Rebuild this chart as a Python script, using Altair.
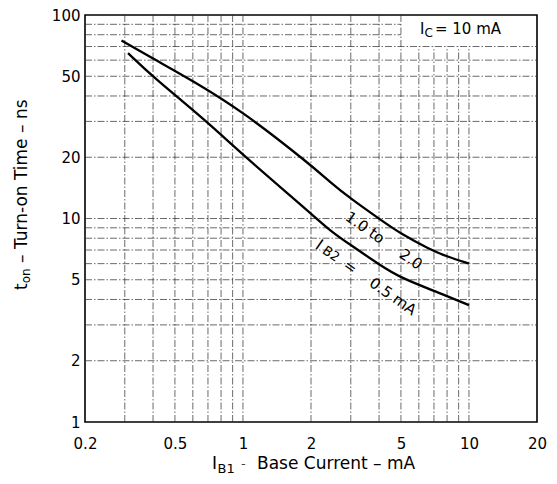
import altair as alt
import pandas as pd

# ---------------- data ----------------
ib1_upper = [0.29, 0.4, 0.6, 1.0, 2.0, 2.43, 3.0, 4.04, 5.0, 6.7, 8.0, 10.0]
ton_upper = [75, 61, 47.5, 33.5, 18.3, 15.1, 12.5, 9.9, 8.4, 7.06, 6.5, 6.0]
ib1_lower = [0.31, 0.4, 0.69, 1.0, 2.0, 2.43, 3.0, 4.04, 5.0, 7.44, 10.0]
ton_lower = [65, 49.6, 30.1, 20.5, 10.6, 8.7, 7.4, 5.9, 5.1, 4.3, 3.75]

x_grid = [0.3, 0.4, 0.5, 0.6, 0.7, 0.8, 0.9, 1, 2, 3, 4, 5, 6, 7, 8, 9, 10]
y_grid = [2, 3, 4, 5, 6, 7, 8, 9, 10, 20, 30, 40, 50, 60, 70, 80, 90]
x_labels = [0.2, 0.5, 1, 2, 5, 10, 20]
y_labels = [1, 2, 5, 10, 20, 50, 100]
x_domain = [0.2, 20]
y_domain = [1, 100]
box_x, box_y = 5, 70  # corner of the legend box (upper right)

# curve annotations (text, x, y)
curve_text = ["1.0 to", "2.0", "0.5 mA", "="]
curve_tx = [3.47, 5.54, 4.61, 2.98]
curve_ty = [9.02, 6.31, 4.14, 5.78]

F = "DejaVu Sans"
W, H = 452, 407

# ---------------- tables ----------------
curves = pd.DataFrame({
    "ib1": ib1_upper + ib1_lower,
    "ton": ton_upper + ton_lower,
    "series": ["IB2 = 1.0 to 2.0 mA"] * len(ib1_upper) + ["IB2 = 0.5 mA"] * len(ib1_lower),
})

rows = []
for xv in x_grid:
    rows.append({"x": xv, "x2": xv, "y": y_domain[0], "y2": y_domain[1] if xv <= box_x else box_y})
for yv in y_grid:
    rows.append({"x": x_domain[0], "x2": x_domain[1] if yv <= box_y else box_x, "y": yv, "y2": yv})
grid = pd.DataFrame(rows)

ann = pd.DataFrame({"t": curve_text, "x": curve_tx, "y": curve_ty})

xs = alt.Scale(type="log", domain=x_domain, nice=False)
ys = alt.Scale(type="log", domain=y_domain, nice=False)
xaxis = alt.Axis(values=x_labels, format="~g", title=None, grid=False, ticks=False, tickSize=0,
                 domain=False, labelFlush=False, labelOverlap=False, labelPadding=14)
yaxis = alt.Axis(values=y_labels, format="~g", title=None, grid=False, ticks=False, tickSize=0,
                 domain=False, labelOverlap=False, labelPadding=5)

grid_layer = alt.Chart(grid).mark_rule(color="#2a2a2a", strokeWidth=0.7, strokeDash=[7, 2, 1.5, 2]).encode(
    x=alt.X("x:Q", scale=xs, axis=xaxis), x2="x2:Q",
    y=alt.Y("y:Q", scale=ys, axis=yaxis), y2="y2:Q",
)

line_layer = alt.Chart(curves).mark_line(color="black", strokeWidth=2.3, interpolate="basis").encode(
    x=alt.X("ib1:Q", scale=xs, axis=xaxis),
    y=alt.Y("ton:Q", scale=ys, axis=yaxis),
    detail="series:N",
)

ann_layer = alt.Chart(ann).mark_text(font=F, fontSize=15, angle=35, align="center",
                                     baseline="middle", color="black").encode(
    x=alt.X("x:Q", scale=xs, axis=xaxis),
    y=alt.Y("y:Q", scale=ys, axis=yaxis),
    text="t:N",
)

# I_B2 label pieces
ib2_df = pd.DataFrame({"t": ["I", "B2"], "x": [2.17, 2.45], "y": [7.4, 6.68], "fs": [16, 13]})
ib2_layer = alt.Chart(ib2_df).mark_text(font=F, angle=35, align="center", baseline="middle",
                                        color="black").encode(
    x=alt.X("x:Q", scale=xs, axis=xaxis),
    y=alt.Y("y:Q", scale=ys, axis=yaxis),
    text="t:N",
    size=alt.Size("fs:Q", scale=None, legend=None),
)

# I_C = 10 mA legend text
ic_df = pd.DataFrame({"x": [6.07], "y": [80.8]})
ic_base = alt.Chart(ic_df).encode(x=alt.X("x:Q", scale=xs, axis=xaxis), y=alt.Y("y:Q", scale=ys, axis=yaxis))
ic_I = ic_base.mark_text(text="I", font=F, fontSize=15, align="left", baseline="alphabetic", color="black")
ic_C = ic_base.mark_text(text="C", font=F, fontSize=12, align="left", baseline="alphabetic", dx=4.5, dy=3,
                         color="black")
ic_rest = ic_base.mark_text(text="= 10 mA", font=F, fontSize=15, align="left", baseline="alphabetic", dx=15,
                            color="black")

# axis titles drawn as text (subscripts)
one = alt.Chart(pd.DataFrame({"k": [0]}))
xt_I = one.mark_text(text="I", font=F, fontSize=17, align="left", baseline="alphabetic", color="black").encode(
    x=alt.value(127), y=alt.value(H + 47))
xt_B1 = one.mark_text(text="B1", font=F, fontSize=13, align="left", baseline="alphabetic", color="black").encode(
    x=alt.value(132.5), y=alt.value(H + 51))
xt_dash = one.mark_text(text="-", font=F, fontSize=13, align="left", baseline="alphabetic", color="#444").encode(
    x=alt.value(156), y=alt.value(H + 46))
xt_rest = one.mark_text(text="Base Current – mA", font=F, fontSize=17, align="left", baseline="alphabetic",
                        color="black").encode(x=alt.value(172), y=alt.value(H + 47))

yt_t = one.mark_text(text="t", font=F, fontSize=17, angle=270, align="left", baseline="alphabetic",
                     color="black").encode(x=alt.value(-58), y=alt.value(275))
yt_on = one.mark_text(text="on", font=F, fontSize=12, angle=270, align="left", baseline="alphabetic",
                      dx=6.7, dy=3, color="black").encode(x=alt.value(-58), y=alt.value(275))
yt_rest = one.mark_text(text="– Turn-on Time – ns", font=F, fontSize=17, angle=270, align="left",
                        baseline="alphabetic", dx=27, color="black").encode(x=alt.value(-58), y=alt.value(275))

chart = alt.layer(
    grid_layer, line_layer, ann_layer, ib2_layer, ic_I, ic_C, ic_rest,
    xt_I, xt_B1, xt_dash, xt_rest, yt_t, yt_on, yt_rest,
).properties(
    width=W, height=H,
    autosize=alt.AutoSizeParams(type="none"),
    padding={"left": 77, "top": 7, "right": 12, "bottom": 54},
).configure_view(
    stroke="black", strokeWidth=1.6
).configure_axis(
    labelFont=F, labelFontSize=15, labelColor="black"
)

chart.save("out.html", embed_options={"renderer": "svg", "actions": False})
